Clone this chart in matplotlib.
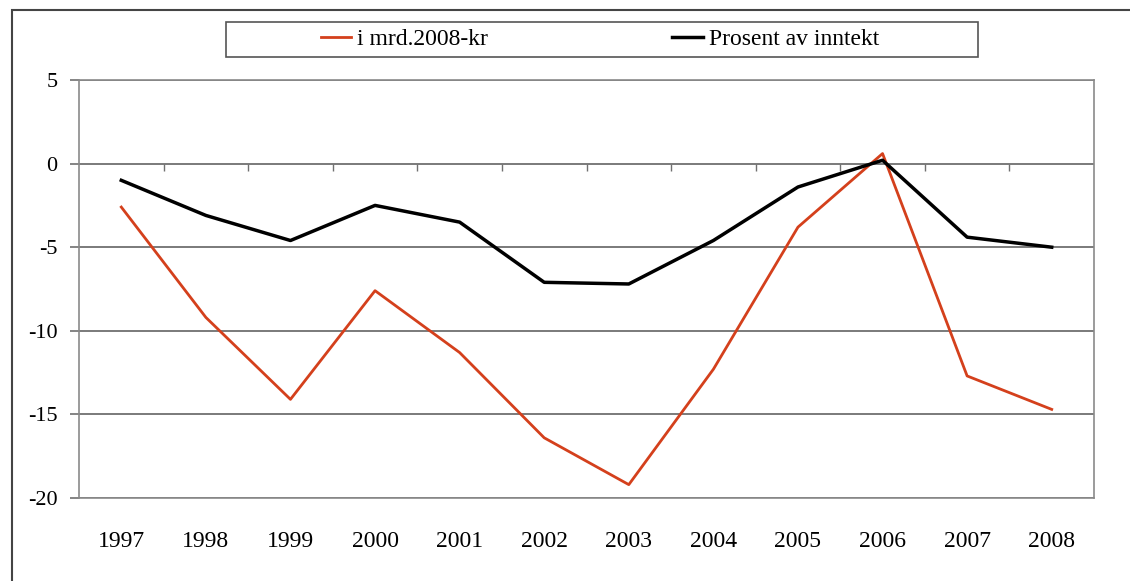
"""
Sparing per year: billion 2008-kroner and percent of income, 1997-2008
"""

import matplotlib.pyplot as plt
from matplotlib.patches import Rectangle

years = ["1997", "1998", "1999", "2000", "2001", "2002",
         "2003", "2004", "2005", "2006", "2007", "2008"]
mrd_kr = [-2.6, -9.2, -14.1, -7.6, -11.3, -16.4,
          -19.2, -12.3, -3.8, 0.6, -12.7, -14.7]
prosent = [-1.0, -3.1, -4.6, -2.5, -3.5, -7.1,
           -7.2, -4.6, -1.4, 0.2, -4.4, -5.0]

plt.rcParams["font.family"] = ["Liberation Serif", "DejaVu Serif"]

fig = plt.figure(figsize=(11.3, 5.81), dpi=100)
ax = fig.add_axes([79 / 1130, 1 - 498 / 581, 1015 / 1130, 418 / 581])

x = range(len(years))
ax.plot(x, mrd_kr, color="#d4401c", lw=2.0, label="i mrd.2008-kr", zorder=3)
ax.plot(x, prosent, color="black", lw=2.5, label="Prosent av inntekt", zorder=4)

ax.set_xlim(-0.5, len(years) - 0.5)
ax.set_ylim(-20, 5)
ax.set_yticks([5, 0, -5, -10, -15, -20])
ax.set_yticklabels(["5", "0", "-5", "-10", "-15", "-20"])
ax.set_xticks(list(x))
ax.set_xticklabels(years)
ax.tick_params(axis="x", length=0, pad=24, labelsize=17)
ax.tick_params(axis="y", length=6.5, width=1.2, color="#707070",
               pad=9, labelsize=16)
ax.grid(axis="y", color="#707070", lw=1.3)
ax.set_axisbelow(True)
for s in ax.spines.values():
    s.set_color("#8a8a8a")
    s.set_linewidth(1.2)

# category ticks on the zero line (Excel style), pointing down
sec = ax.secondary_xaxis(0.8)
sec.xaxis.set_ticks_position("bottom")
sec.set_xticks([i - 0.5 for i in range(1, len(years))])
sec.set_xticklabels([])
sec.tick_params(length=5, width=1.0, color="#707070", direction="out")
sec.spines["bottom"].set_visible(False)
sec.spines["top"].set_visible(False)

# legend box
fig.patches.append(Rectangle((226 / 1130, 1 - 57 / 581), 752 / 1130, 35 / 581,
                             transform=fig.transFigure, fill=False,
                             ec="#555555", lw=1.2))
fig.legend(loc="center", bbox_to_anchor=(600 / 1130, 1 - 39.5 / 581),
           ncol=2, frameon=False, fontsize=17, handlelength=1.3,
           handletextpad=0.25, columnspacing=7.8)

# outer chart frame
fig.patches.append(Rectangle((12 / 1130, -0.1), 1.2, 1.1 - 10 / 581,
                             transform=fig.transFigure, fill=False,
                             ec="#444444", lw=1.5))

fig.savefig("out.png", dpi=100)
